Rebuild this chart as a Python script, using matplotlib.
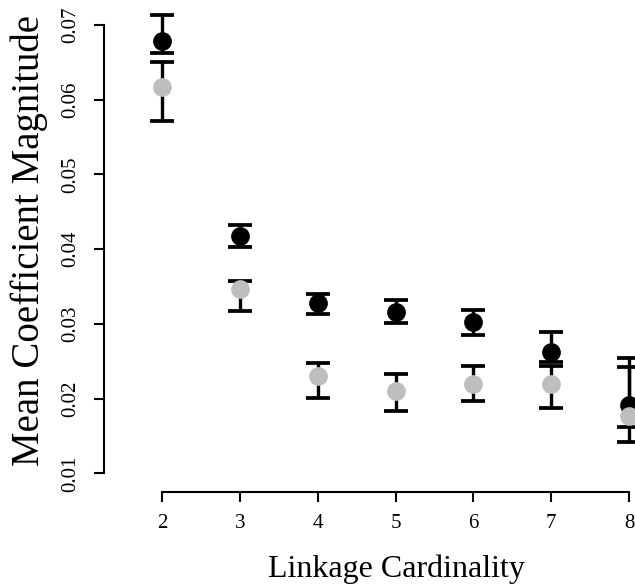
import matplotlib
matplotlib.use("Agg")
import matplotlib.pyplot as plt

# values
cardinality = [2, 3, 4, 5, 6, 7, 8]

black_mean = [0.0678, 0.0417, 0.0328, 0.0316, 0.0302, 0.0263, 0.0191]
black_lower = [0.0662, 0.0403, 0.0313, 0.0301, 0.0285, 0.0249, 0.0162]
black_upper = [0.0713, 0.0432, 0.0340, 0.0332, 0.0319, 0.0289, 0.0254]

gray_mean = [0.0617, 0.0347, 0.0230, 0.0210, 0.0219, 0.0220, 0.0177]
gray_lower = [0.0571, 0.0317, 0.0201, 0.0183, 0.0197, 0.0187, 0.0142]
gray_upper = [0.0650, 0.0358, 0.0247, 0.0233, 0.0243, 0.0244, 0.0242]

y_ticks = [0.01, 0.02, 0.03, 0.04, 0.05, 0.06, 0.07]
y_ticklabels = ["0.01", "0.02", "0.03", "0.04", "0.05", "0.06", "0.07"]

plt.rcParams['font.family'] = ['Liberation Serif', 'DejaVu Serif']

W, H = 635, 585
fig = plt.figure(figsize=(W / 100, H / 100), dpi=100)

# plot region in pixels (it runs past the right edge, like the reference)
left_px, right_px, top_px, bottom_px = 104, 700, 5, 492
ax = fig.add_axes([left_px / W, 1 - bottom_px / H,
                   (right_px - left_px) / W, (bottom_px - top_px) / H])

# error bars first, then the points on top
for mean, lo, hi in [(black_mean, black_lower, black_upper),
                     (gray_mean, gray_lower, gray_upper)]:
    err = [[m - l for m, l in zip(mean, lo)], [h - m for m, h in zip(mean, hi)]]
    ax.errorbar(cardinality, mean, yerr=err, fmt='none', ecolor='black',
                elinewidth=2.4, capsize=8.3, capthick=2.7, zorder=2,
                clip_on=False)

ax.plot(cardinality, black_mean, 'o', color='black', markersize=13.5,
        markeredgewidth=0, zorder=3, clip_on=False)
ax.plot(cardinality, gray_mean, 'o', color='#bebebe', markersize=13.5,
        markeredgewidth=0, zorder=4, clip_on=False)

ax.set_xlim(1.2548, 8.912)
ax.set_ylim(0.0075, 0.07267)

for s in ['top', 'right']:
    ax.spines[s].set_visible(False)
ax.spines['left'].set_bounds(0.01, 0.07)
ax.spines['bottom'].set_bounds(2, 8)
ax.spines['left'].set_linewidth(1.5)
ax.spines['bottom'].set_linewidth(1.5)

ax.set_xticks(cardinality)
ax.set_xticklabels([str(c) for c in cardinality], fontsize=15)
ax.set_yticks(y_ticks)
ax.set_yticklabels(y_ticklabels, fontsize=15, rotation=90, va='center')
ax.tick_params(axis='x', length=7.2, width=1.5, pad=9)
ax.tick_params(axis='y', length=7.2, width=1.5, pad=10)

fig.text(396 / W, 8 / H, "Linkage Cardinality", fontsize=23,
         ha='center', va='baseline')
fig.text(29 / W, 1 - 240 / H, "Mean Coefficient Magnitude", fontsize=28,
         ha='center', va='center', rotation=90)

fig.savefig("out.png", dpi=100)
